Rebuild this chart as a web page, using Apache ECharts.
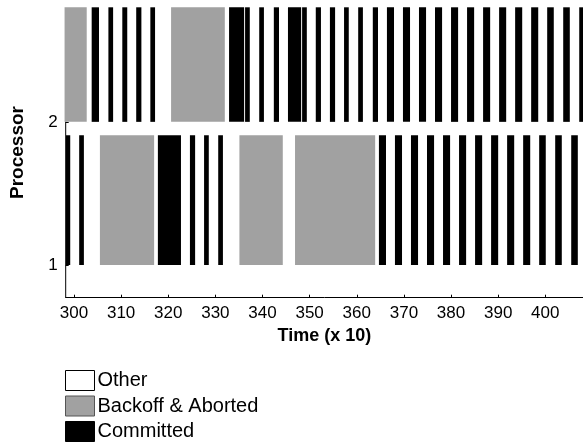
<!DOCTYPE html>
<html>
<head>
<meta charset="utf-8">
<script src="https://cdn.jsdelivr.net/npm/echarts@6/dist/echarts.min.js"></script>
<style>html,body{margin:0;padding:0;background:#fff}#c{width:583px;height:447px}</style>
</head>
<body>
<div id="c"></div>
<script>
// Data (time in units of 10), segments [start, end]
const p1Committed = [[298.3,299.2],[301.1,302.1],[317.8,322.7],[324.6,325.7],[327.6,328.6],[330.6,331.6],[364.7,366.2],[368.1,369.6],[371.5,373.0],[374.9,376.4],[378.3,379.8],[381.7,383.2],[385.1,386.6],[388.5,390.0],[391.9,393.4],[395.3,396.8],[398.7,400.1],[402.1,403.5],[405.5,406.9]];
const p1Backoff = [[305.5,317.0],[335.1,344.3],[346.9,363.9]];
const p2Committed = [[303.75,305.3],[307.3,308.3],[310.25,311.3],[313.2,314.3],[316.2,317.2],[332.9,336.1],[336.3,337.3],[339.3,340.3],[342.4,343.5],[345.4,348.2],[348.4,349.4],[351.3,352.4],[354.3,355.4],[357.3,358.3],[360.3,361.3],[363.4,364.5],[366.4,367.9],[369.8,371.3],[373.2,374.7],[376.6,378.1],[380.0,381.5],[383.4,384.9],[386.8,388.3],[390.2,391.7],[393.6,395.1],[397.0,398.5],[400.4,401.8],[403.8,405.2],[407.2,408.6]];
const p2Backoff = [[298.0,302.7],[320.6,332.0]];
const xTicks = [300,310,320,330,340,350,360,370,380,390,400];
const yTicks = [1,2];
const legendNames = ['Other','Backoff & Aborted','Committed'];

const xMin = 298.24, xMax = 408.0, yMin = 0.772, yMax = 2.8;
const rowHeight = {1: 0.907, 2: 0.8};
const GRAY = '#a1a1a1';

function toData(segs, proc) { return segs.map(s => [s[0], s[1], proc]); }

function renderItem(params, api) {
  const s = api.value(0), e = api.value(1), p = api.value(2);
  const tl = api.coord([s, p + rowHeight[p]]);
  const br = api.coord([e, p]);
  return {
    type: 'rect',
    shape: {x: tl[0], y: tl[1], width: br[0] - tl[0], height: br[1] - tl[1]},
    style: {fill: api.visual('color')}
  };
}

const chart = echarts.init(document.getElementById('c'), null, {renderer: 'canvas'});
const font = 'Arial, "Liberation Sans", Helvetica, sans-serif';
chart.setOption({
  animation: false,
  backgroundColor: '#fff',
  textStyle: {fontFamily: font},
  grid: {left: 65.7, right: 0, top: 7.3, bottom: 149.3, containLabel: false, outerBoundsMode: 'none'},
  xAxis: {
    type: 'value', min: xMin, max: xMax,
    name: 'Time (x 10)', nameLocation: 'middle', nameGap: 28,
    nameTextStyle: {fontFamily: font, fontWeight: 'bold', fontSize: 18, color: '#000'},
    axisLine: {show: true, onZero: false, lineStyle: {color: '#000', width: 1}},
    axisTick: {show: true, inside: true, length: 3, customValues: xTicks, lineStyle: {color: '#000'}},
    axisLabel: {customValues: xTicks, fontSize: 17, color: '#000', margin: 7, fontFamily: font},
    splitLine: {show: false}
  },
  yAxis: {
    type: 'value', min: yMin, max: yMax,
    name: 'Processor', nameLocation: 'middle', nameGap: 38, nameRotate: 90,
    nameTextStyle: {fontFamily: font, fontWeight: 'bold', fontSize: 19, color: '#000'},
    axisLine: {show: false},
    axisTick: {show: true, inside: true, length: 3, customValues: yTicks, lineStyle: {color: '#000'}},
    axisLabel: {customValues: yTicks, fontSize: 17, color: '#000', margin: 8, fontFamily: font},
    splitLine: {show: false}
  },
  legend: {
    orient: 'vertical', left: 65, top: 370, padding: 0,
    itemWidth: 29, itemHeight: 20, itemGap: 4.5,
    icon: 'rect',
    textStyle: {fontSize: 20, color: '#000', fontFamily: font, padding: [0,0,0,-2]},
    data: [
      {name: legendNames[0], itemStyle: {color: '#fff', borderColor: '#000', borderWidth: 1}},
      {name: legendNames[1], itemStyle: {color: GRAY, borderColor: '#555', borderWidth: 1}},
      {name: legendNames[2], itemStyle: {color: '#000', borderColor: '#000', borderWidth: 1}}
    ],
    selectedMode: false
  },
  series: [
    {name: legendNames[0], type: 'custom', renderItem: renderItem, clip: false,
     itemStyle: {color: '#fff'}, encode: {x: [0,1], y: 2}, data: []},
    {name: legendNames[1], type: 'custom', renderItem: renderItem, clip: false,
     itemStyle: {color: GRAY}, encode: {x: [0,1], y: 2},
     data: toData(p1Backoff, 1).concat(toData(p2Backoff, 2))},
    {name: legendNames[2], type: 'custom', renderItem: renderItem, clip: false,
     itemStyle: {color: '#000'}, encode: {x: [0,1], y: 2},
     data: toData(p1Committed, 1).concat(toData(p2Committed, 2))},
    {name: 'yaxisline', type: 'line', symbol: 'none', silent: true,
     lineStyle: {color: '#000', width: 1}, data: [[xMin, yMin], [xMin, 2]], z: 5}
  ]
});
</script>
</body>
</html>
